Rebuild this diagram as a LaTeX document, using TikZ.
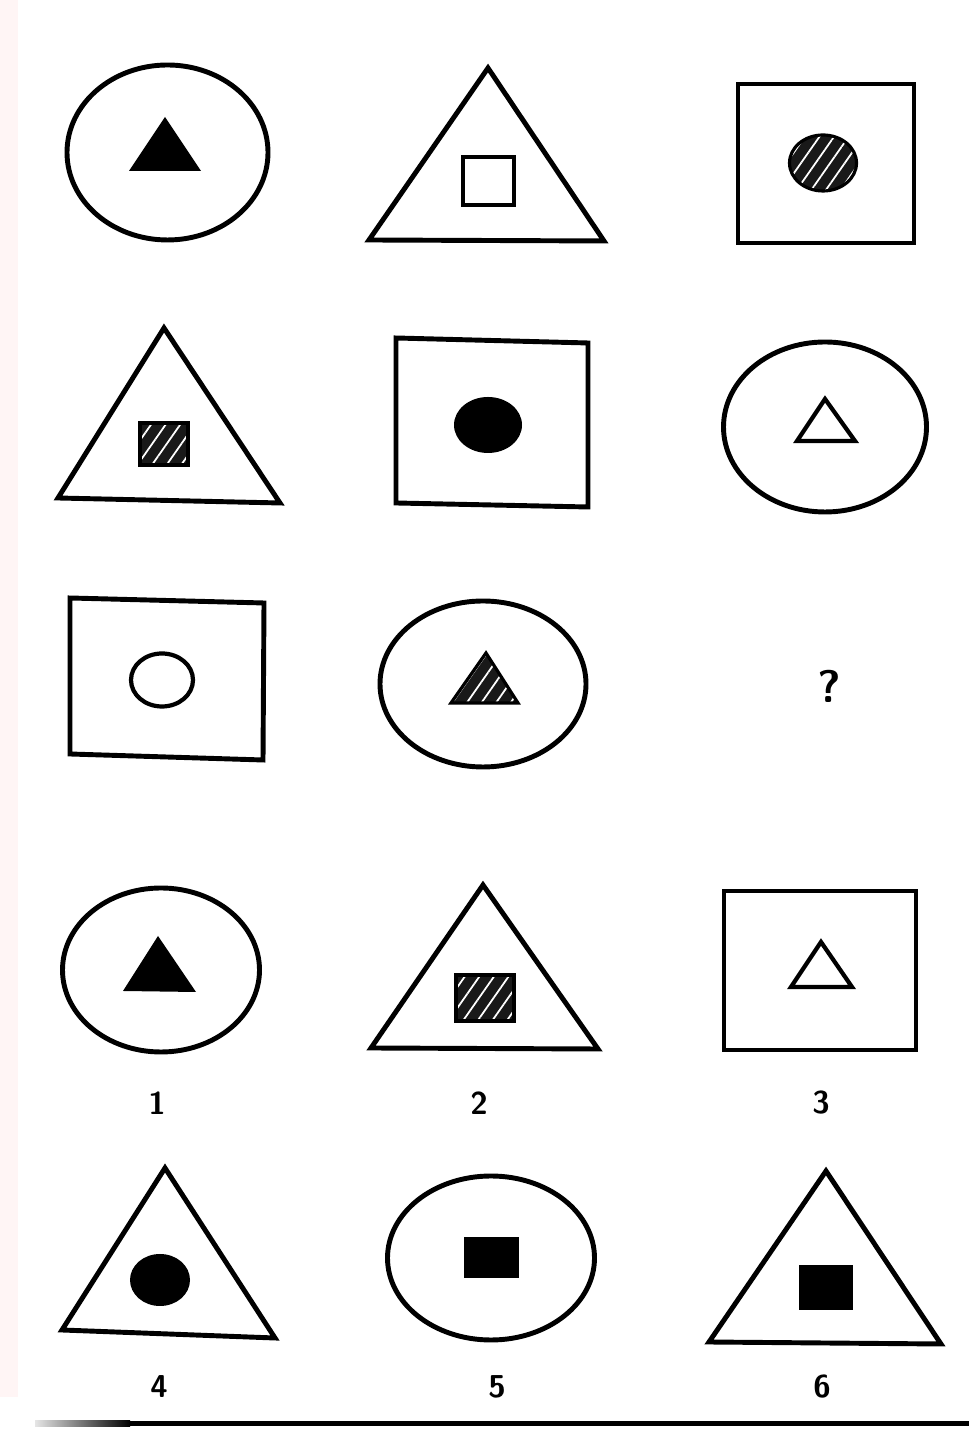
\documentclass[tikz,border=0pt]{standalone}
\usetikzlibrary{patterns.meta}

\tikzset{
  outline/.style={line width=1.4pt},
  inline/.style={line width=1.2pt},
  hatched/.style={fill=black!90, postaction={pattern={Lines[angle=55,distance=3.4pt,line width=0.5pt]}, pattern color=white}, postaction={draw, line width=0.9pt}},
  numlabel/.style={font=\sffamily\bfseries\fontsize{9}{9}\selectfont}
}

\begin{document}
\begin{tikzpicture}
\useasboundingbox (0,0) rectangle (9.690,14.320);
\fill[red!4] (0,0.350) rectangle (0.180,14.320);
\draw[outline] (1.675,12.795) ellipse (1.005 and 0.875);
\fill (1.650,13.150) -- (1.290,12.610) -- (2.010,12.610) -- cycle;
\draw[outline] (4.880,13.640) -- (3.690,11.920) -- (6.040,11.910) -- cycle;
\draw[inline] (4.630,12.750) rectangle (5.140,12.270);
\draw[outline] (7.380,13.480) rectangle (9.140,11.890);
\path[hatched] (8.230,12.690) ellipse (0.335 and 0.280);
\draw[outline] (1.640,11.040) -- (0.580,9.340) -- (2.800,9.290) -- cycle;
\path[hatched] (1.400,10.090) rectangle (1.880,9.670);
\draw[outline] (3.960,10.940) -- (5.880,10.890) -- (5.880,9.250) -- (3.960,9.290) -- cycle;
\fill (4.880,10.070) ellipse (0.340 and 0.280);
\draw[outline] (8.250,10.050) ellipse (1.015 and 0.850);
\draw[inline] (8.250,10.330) -- (7.970,9.910) -- (8.550,9.910) -- cycle;
\draw[outline] (0.700,8.340) -- (2.640,8.290) -- (2.630,6.720) -- (0.700,6.780) -- cycle;
\draw[inline] (1.620,7.520) ellipse (0.310 and 0.265);
\draw[outline] (4.830,7.480) ellipse (1.030 and 0.830);
\path[hatched] (4.860,7.790) -- (4.510,7.290) -- (5.180,7.290) -- cycle;
\node[font=\sffamily\bfseries\fontsize{13}{13}\selectfont] (q) at (8.290,7.460) {?};
\draw[outline] (1.610,4.620) ellipse (0.985 and 0.820);
\fill (1.580,4.960) -- (1.230,4.410) -- (1.960,4.400) -- cycle;
\draw[outline] (4.830,5.470) -- (3.710,3.840) -- (5.980,3.830) -- cycle;
\path[hatched] (4.560,4.570) rectangle (5.140,4.110);
\draw[outline] (7.240,5.410) rectangle (9.160,3.820);
\draw[inline] (8.210,4.900) -- (7.910,4.450) -- (8.520,4.450) -- cycle;
\node[numlabel] (n1) at (1.570,3.290) {1};
\node[numlabel] (n2) at (4.790,3.290) {2};
\node[numlabel] (n3) at (8.210,3.290) {3};
\draw[outline] (1.650,2.640) -- (0.620,1.020) -- (2.750,0.940) -- cycle;
\fill (1.600,1.520) ellipse (0.300 and 0.260);
\draw[outline] (4.910,1.740) ellipse (1.035 and 0.820);
\fill (4.640,1.950) rectangle (5.190,1.540);
\draw[outline] (8.260,2.610) -- (7.090,0.900) -- (9.410,0.880) -- cycle;
\fill (7.990,1.670) rectangle (8.530,1.220);
\node[numlabel] (n4) at (1.590,0.450) {4};
\node[numlabel] (n5) at (4.970,0.450) {5};
\node[numlabel] (n6) at (8.220,0.450) {6};
\shade[left color=black!10, right color=black] (0.350,0.060) rectangle (1.300,0.110);
\draw[line width=1.5pt] (1.300,0.085) -- (9.690,0.085);
\end{tikzpicture}
\end{document}
